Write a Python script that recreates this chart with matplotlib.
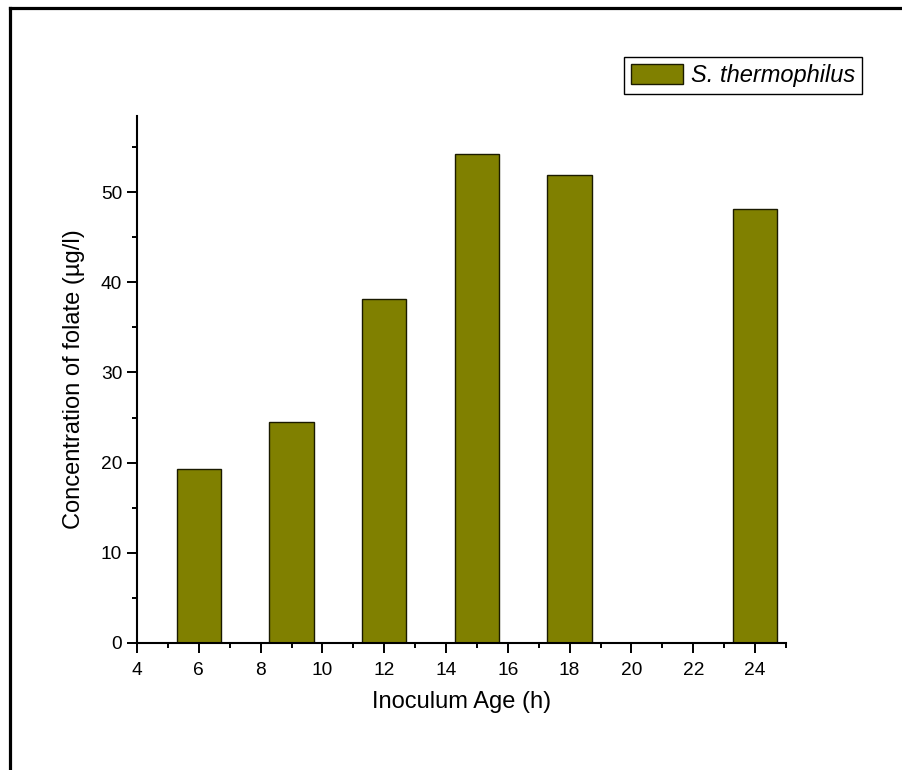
#!/usr/bin/env python3
"""Folate yield of S. thermophilus against inoculum age, Origin-style bars."""
import matplotlib
matplotlib.use("Agg")
import matplotlib.pyplot as plt
from matplotlib.lines import Line2D
from matplotlib.ticker import MultipleLocator

inoculum_age_h = [6, 9, 12, 15, 18, 24]
folate_ug_per_l = [19.3, 24.5, 38.2, 54.2, 51.9, 48.2]
series_name = "S. thermophilus"

OLIVE = "#808000"
plt.rcParams.update({"font.family": ["Liberation Sans", "DejaVu Sans"]})

fig = plt.figure(figsize=(9.03, 7.70), dpi=100)
ax = fig.add_axes([0.1517, 0.1653, 0.7187, 0.6844])

ax.bar(inoculum_age_h, folate_ug_per_l, width=1.44, color=OLIVE,
       edgecolor="#1a1a00", linewidth=1.0, label=series_name, zorder=2)

ax.set_xlim(4, 25)
ax.set_ylim(0, 58.5)
ax.xaxis.set_major_locator(MultipleLocator(2))
ax.xaxis.set_minor_locator(MultipleLocator(1))
ax.yaxis.set_major_locator(MultipleLocator(10))
ax.yaxis.set_minor_locator(MultipleLocator(5))

for side in ("top", "right"):
    ax.spines[side].set_visible(False)
for side in ("left", "bottom"):
    ax.spines[side].set_linewidth(1.5)

ax.tick_params(which="major", direction="out", length=7.2, width=1.4,
               labelsize=13.8, pad=3.5)
ax.tick_params(which="minor", direction="out", length=3.6, width=1.4)
ax.tick_params(axis="x", which="major", pad=6.5)

ax.set_xlabel("Inoculum Age (h)", fontsize=17, labelpad=9)
ax.set_ylabel("Concentration of folate (\u00b5g/l)", fontsize=17, labelpad=11)

leg = ax.legend(loc="upper right", bbox_to_anchor=(862 / 903, 1 - 57 / 770),
                bbox_transform=fig.transFigure, borderaxespad=0,
                fancybox=False, framealpha=1, edgecolor="black",
                prop={"size": 17, "style": "italic"},
                handlelength=2.2, handleheight=0.875, handletextpad=0.33,
                borderpad=0.3)
leg.get_frame().set_linewidth(1.0)

# page frame: left and top edges only
fig.add_artist(Line2D([10.5 / 903, 10.5 / 903], [0, 1 - 7.5 / 770],
                      transform=fig.transFigure, color="black", linewidth=2.3,
                      solid_capstyle="projecting"))
fig.add_artist(Line2D([10.5 / 903, 1], [1 - 7.5 / 770, 1 - 7.5 / 770],
                      transform=fig.transFigure, color="black", linewidth=2.3,
                      solid_capstyle="projecting"))

fig.savefig("out.png", dpi=100)
